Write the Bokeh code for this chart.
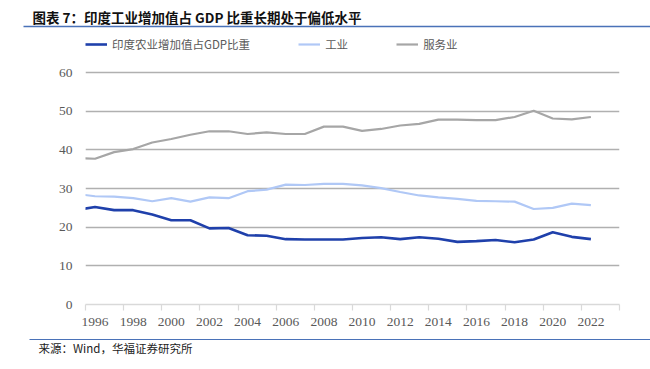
from bokeh.plotting import figure
from bokeh.models import Range1d, FixedTicker, Legend, LegendItem
from bokeh.layouts import column
from bokeh.embed import file_html
from bokeh.resources import INLINE
from bokeh.core.properties import value

# ---- data (percent of GDP) ----
years = list(range(1995, 2023))
agriculture = [24.4, 25.2, 24.4, 24.4, 23.3, 21.8, 21.8, 19.7, 19.8, 17.9, 17.8,
               16.9, 16.8, 16.8, 16.8, 17.2, 17.4, 16.9, 17.4, 17.0, 16.2, 16.4,
               16.7, 16.1, 16.8, 18.7, 17.5, 16.9]
industry = [28.6, 28.0, 27.9, 27.5, 26.7, 27.5, 26.6, 27.7, 27.5, 29.3, 29.7,
            31.0, 30.9, 31.2, 31.2, 30.8, 30.1, 29.1, 28.2, 27.7, 27.3, 26.8,
            26.7, 26.6, 24.7, 25.0, 26.1, 25.7]
services = [37.9, 37.7, 39.4, 40.2, 41.9, 42.8, 43.9, 44.8, 44.8, 44.1, 44.5,
            44.1, 44.1, 46.0, 46.0, 44.9, 45.4, 46.3, 46.7, 47.8, 47.8, 47.7,
            47.7, 48.5, 50.1, 48.1, 47.9, 48.5]
series_names = ["印度农业增加值占GDP比重", "工业", "服务业"]
x_tick_labels = list(range(1996, 2023, 2))
x_tick_marks = [y - 0.5 for y in range(1996, 2025, 2)]
y_ticks = [0, 10, 20, 30, 40, 50, 60]

title_text = "图表 7：印度工业增加值占 GDP 比重长期处于偏低水平"
source_text = "来源：Wind，华福证券研究所"

W = 650
CJK = "Noto Sans CJK SC"
SERIF = "Liberation Serif"
RULE = "#4a72b8"


def bare(fig):
    fig.axis.visible = False
    fig.grid.visible = False
    fig.outline_line_color = None


# ---- header ----
header = figure(width=W, height=34, x_range=Range1d(0, W), y_range=Range1d(34, 0),
                output_backend="svg", toolbar_location=None, min_border=0,
                frame_align=False)
bare(header)
header.text(x=[32], y=[16], text=[title_text], text_font=value(CJK),
            text_font_size="13.5px", text_font_style="bold", text_color="#111111",
            text_baseline="middle", text_align="left")
header.segment(x0=[23], y0=[26], x1=[W], y1=[26], line_color=RULE, line_width=1.5)

# ---- main chart (frame extends up to hold the legend) ----
p = figure(width=W, height=300, x_range=Range1d(1995.5, 2023.5), y_range=Range1d(0, 69.83),
           output_backend="svg", toolbar_location=None, frame_align=False,
           min_border_left=85, min_border_right=31, min_border_top=0, min_border_bottom=30)
p.outline_line_color = None
p.xgrid.visible = False
p.ygrid.ticker = FixedTicker(ticks=y_ticks[1:])
p.ygrid.grid_line_color = "#b0b0b0"
p.ygrid.grid_line_width = 1.5

r_agri = p.line(years, agriculture, line_color="#1f40ab", line_width=2.6)
r_ind = p.line(years, industry, line_color="#b0c8f6", line_width=2.2)
r_srv = p.line(years, services, line_color="#a6a6a6", line_width=2.2)

xa = p.xaxis[0]
xa.ticker = FixedTicker(ticks=x_tick_labels, minor_ticks=x_tick_marks)
xa.axis_line_color = "#d9d9d9"
xa.axis_line_width = 1.5
xa.major_tick_line_color = None
xa.major_tick_out = 0
xa.major_tick_in = 0
xa.minor_tick_line_color = "#d9d9d9"
xa.minor_tick_line_width = 1.2
xa.minor_tick_out = 6
xa.minor_tick_in = 0
xa.major_label_text_font = SERIF
xa.major_label_text_font_size = "13.5px"
xa.major_label_text_color = "#595959"
xa.major_label_standoff = 7

ya = p.yaxis[0]
ya.ticker = FixedTicker(ticks=y_ticks)
ya.axis_line_color = None
ya.major_tick_line_color = None
ya.minor_tick_line_color = None
ya.major_label_text_font = SERIF
ya.major_label_text_font_size = "13.5px"
ya.major_label_text_color = "#595959"
ya.major_label_standoff = 7

legend = Legend(items=[LegendItem(label=series_names[0], renderers=[r_agri]),
                       LegendItem(label=series_names[1], renderers=[r_ind]),
                       LegendItem(label=series_names[2], renderers=[r_srv])],
                location=(0, 252), orientation="horizontal", spacing=48,
                glyph_width=22, glyph_height=14, label_standoff=5,
                padding=0, margin=0, border_line_color=None, background_fill_alpha=0,
                label_text_font=CJK, label_text_font_size="11.5px",
                label_text_color="#595959", label_height=14)
p.add_layout(legend, "center")

# ---- footer ----
footer = figure(width=W, height=35, x_range=Range1d(0, W), y_range=Range1d(35, 0),
                output_backend="svg", toolbar_location=None, min_border=0,
                frame_align=False)
bare(footer)
footer.segment(x0=[29], y0=[5], x1=[W], y1=[5], line_color=RULE, line_width=1.2)
footer.text(x=[38], y=[13], text=[source_text], text_font=value(CJK),
            text_font_size="11.5px", text_color="#222222",
            text_baseline="middle", text_align="left")

layout = column(header, p, footer, spacing=0)
open("out.html", "w").write(file_html(layout, INLINE))
